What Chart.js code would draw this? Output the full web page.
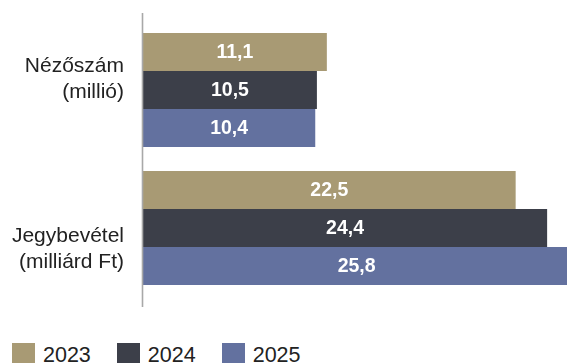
<!DOCTYPE html>
<html>
<head>
<meta charset="utf-8">
<script src="https://cdn.jsdelivr.net/npm/chart.js@4"></script>
<style>
  html, body { margin: 0; padding: 0; background: #fff; width: 567px; height: 363px; overflow: hidden; }
  #wrap { position: absolute; left: 0; top: 0; width: 567px; height: 310px; }
  #legend { position: absolute; left: 12px; top: 343px; display: flex; align-items: flex-start;
            font-family: "Liberation Sans", Arial, sans-serif; font-size: 21.5px; color: #222; white-space: nowrap; }
  .item { display: flex; align-items: flex-start; margin-right: 26px; }
  .box { width: 23px; height: 23px; margin-right: 8px; }
  .txt { line-height: 1; margin-top: 2px; }
</style>
</head>
<body>
<div id="wrap"><canvas id="c"></canvas></div>
<div id="legend"></div>
<script>
const categories = [["Nézőszám", "(millió)"], ["Jegybevétel", "(milliárd Ft)"]];
const seriesNames = ["2023", "2024", "2025"];
const values2023 = [11.1, 22.5];
const values2024 = [10.5, 24.4];
const values2025 = [10.4, 25.8];
const seriesColors = ["#a89a74", "#3c3f49", "#63719f"];

const seriesValues = [values2023, values2024, values2025];

const valueLabels = {
  id: 'valueLabels',
  afterDatasetsDraw(chart) {
    const ctx = chart.ctx;
    const xs = chart.scales.x;
    ctx.save();
    ctx.font = 'bold 19.5px "Liberation Sans", Arial, sans-serif';
    ctx.fillStyle = '#ffffff';
    ctx.textAlign = 'center';
    ctx.textBaseline = 'middle';
    chart.data.datasets.forEach((ds, di) => {
      const meta = chart.getDatasetMeta(di);
      meta.data.forEach((bar, i) => {
        const v = ds.data[i];
        const x0 = xs.getPixelForValue(0);
        const x1 = xs.getPixelForValue(v);
        ctx.fillText(v.toFixed(1).replace('.', ','), (x0 + x1) / 2, bar.y + 1);
      });
    });
    ctx.restore();
  }
};

const catLabels = {
  id: 'catLabels',
  afterDraw(chart, args, opts) {
    const ctx = chart.ctx;
    const ys = chart.scales.y;
    ctx.save();
    ctx.font = '21px "Liberation Sans", Arial, sans-serif';
    ctx.fillStyle = '#222222';
    ctx.textAlign = 'right';
    ctx.textBaseline = 'alphabetic';
    chart.data.labels.forEach((lines, i) => {
      const yc = ys.getPixelForValue(i);
      lines.forEach((t, li) => {
        ctx.fillText(t, opts.x, yc + opts.offsets[i] + li * opts.lineHeight);
      });
    });
    const a = chart.chartArea;
    ctx.strokeStyle = '#a8a8a8';
    ctx.lineWidth = 1.6;
    ctx.beginPath();
    ctx.moveTo(a.left - 0.5, a.top - 8);
    ctx.lineTo(a.left - 0.5, a.bottom + 10);
    ctx.stroke();
    ctx.restore();
  }
};

new Chart(document.getElementById('c'), {
  type: 'bar',
  data: {
    labels: categories,
    datasets: seriesNames.map((n, i) => ({
      label: n,
      data: seriesValues[i],
      backgroundColor: seriesColors[i],
      borderWidth: 0,
      barPercentage: 1,
      categoryPercentage: 0.826
    }))
  },
  options: {
    indexAxis: 'y',
    responsive: true,
    maintainAspectRatio: false,
    animation: false,
    layout: { padding: { left: 143, right: 0, top: 21, bottom: 13 } },
    scales: {
      x: { display: false, min: 0, max: 25.6 },
      y: { display: false }
    },
    plugins: {
      legend: { display: false },
      tooltip: { enabled: false },
      catLabels: { x: 124, offsets: [-18, 14], lineHeight: 26 }
    }
  },
  plugins: [valueLabels, catLabels]
});

const legend = document.getElementById('legend');
seriesNames.forEach((n, i) => {
  const item = document.createElement('div');
  item.className = 'item';
  const box = document.createElement('div');
  box.className = 'box';
  box.style.background = seriesColors[i];
  const txt = document.createElement('span');
  txt.className = 'txt';
  txt.textContent = n;
  item.appendChild(box);
  item.appendChild(txt);
  legend.appendChild(item);
});
</script>
</body>
</html>
